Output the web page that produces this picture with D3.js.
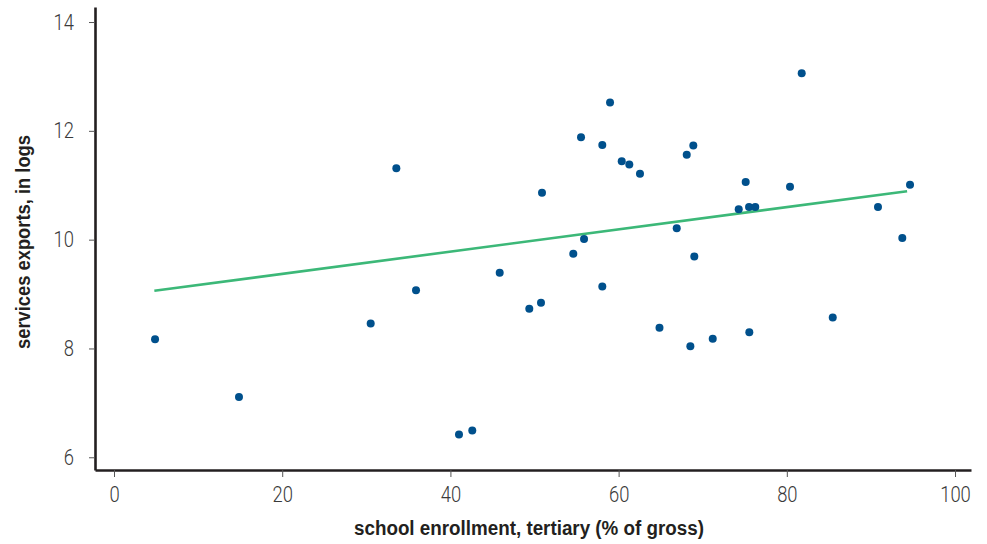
<!DOCTYPE html>
<html>
<head>
<meta charset="utf-8">
<script src="https://cdn.jsdelivr.net/npm/d3@7"></script>
<style>
  html, body { margin: 0; padding: 0; background: #ffffff; }
  svg { display: block; }
</style>
</head>
<body>
<svg id="chart" width="987" height="544"></svg>
<script>
// ---- data ----
const enrollment = [4.88, 14.86, 30.52, 33.57, 35.91, 41.02, 42.60, 45.86, 49.38, 50.77,
  50.89, 54.61, 55.53, 55.89, 58.06, 58.06, 58.98, 60.37, 61.27, 62.54,
  64.86, 66.91, 68.10, 68.53, 68.88, 69.00, 71.19, 74.28, 75.11, 75.54,
  75.51, 76.25, 80.38, 81.77, 85.46, 90.84, 93.73, 94.65];
const servicesExports = [8.17, 7.11, 8.46, 11.31, 9.07, 6.42, 6.49, 9.39, 8.73, 8.84,
  10.86, 9.74, 11.88, 10.01, 9.14, 11.74, 12.52, 11.44, 11.38, 11.21,
  8.38, 10.21, 11.56, 8.04, 11.73, 9.69, 8.18, 10.56, 11.06, 8.30,
  10.60, 10.60, 10.97, 13.06, 8.57, 10.60, 10.03, 11.01];
const fitX = [4.8, 94.3];
const fitY = [9.06, 10.89];
const xTicks = [0, 20, 40, 60, 80, 100];
const yTicks = [6, 8, 10, 12, 14];
const xTitle = "school enrollment, tertiary (% of gross)";
const yTitle = "services exports, in logs";

// ---- layout ----
const svg = d3.select("#chart");
const x = d3.scaleLinear().domain([-2.26, 101.9]).range([95, 971]);
const y = d3.scaleLinear().domain([5.766, 14.276]).range([470, 7]);

const tickFont = "Roboto, 'Liberation Sans', sans-serif";
const titleFont = "'Liberation Sans', Roboto, sans-serif";

// axes
const gx = svg.append("g").attr("transform", "translate(0,470)")
  .call(d3.axisBottom(x).tickValues(xTicks).tickSize(7).tickSizeOuter(0).tickPadding(9));
const gy = svg.append("g").attr("transform", "translate(95,0)")
  .call(d3.axisLeft(y).tickValues(yTicks).tickSize(6).tickSizeOuter(0).tickPadding(15));

[gx, gy].forEach(g => {
  g.select(".domain").attr("stroke", "#231f20").attr("stroke-width", 2.6);
  g.selectAll(".tick line").attr("stroke", "#555").attr("stroke-width", 1);
  g.selectAll(".tick text")
    .attr("fill", "#3a3a3a")
    .style("font-family", tickFont)
    .style("font-size", "22px")
    .style("font-weight", "300")
    .attr("textLength", function() { return this.textContent.length * 10.2; })
    .attr("lengthAdjust", "spacingAndGlyphs");
});

// fit line
svg.append("line")
  .attr("x1", x(fitX[0])).attr("y1", y(fitY[0]))
  .attr("x2", x(fitX[1])).attr("y2", y(fitY[1]))
  .attr("stroke", "#3cb878").attr("stroke-width", 2.6);

// points
svg.append("g").selectAll("circle")
  .data(enrollment.map((v, i) => [v, servicesExports[i]]))
  .join("circle")
  .attr("cx", d => x(d[0]))
  .attr("cy", d => y(d[1]))
  .attr("r", 4)
  .attr("fill", "#00508c");

// titles
svg.append("text")
  .attr("x", 529).attr("y", 535)
  .attr("text-anchor", "middle")
  .style("font-family", titleFont)
  .style("font-weight", "bold")
  .style("font-size", "20px")
  .attr("fill", "#231f20")
  .attr("textLength", 350)
  .attr("lengthAdjust", "spacingAndGlyphs")
  .text(xTitle);

svg.append("text")
  .attr("transform", "translate(30,242) rotate(-90)")
  .attr("text-anchor", "middle")
  .style("font-family", titleFont)
  .style("font-weight", "bold")
  .style("font-size", "20px")
  .attr("fill", "#231f20")
  .attr("textLength", 214)
  .attr("lengthAdjust", "spacingAndGlyphs")
  .text(yTitle);
</script>
</body>
</html>
